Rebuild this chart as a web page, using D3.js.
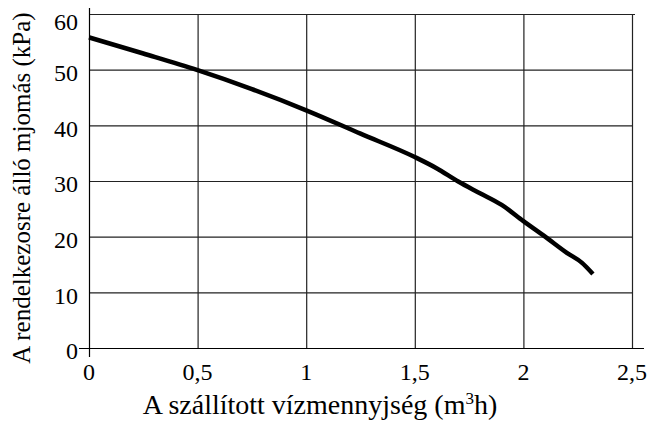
<!DOCTYPE html>
<html>
<head>
<meta charset="utf-8">
<script src="https://cdn.jsdelivr.net/npm/d3@7"></script>
<style>
  body { margin: 0; background: #fff; }
</style>
</head>
<body>
<div id="chart"></div>
<script>
// adatok
var flow = [0, 0.25, 0.5, 0.75, 1, 1.25, 1.5, 1.6, 1.7, 1.8, 1.9, 2, 2.1, 2.2, 2.27, 2.32];
var pressure = [55.8, 52.9, 49.9, 46.5, 42.7, 38.5, 34.3, 32.3, 29.9, 27.8, 25.7, 22.8, 20, 17.1, 15.3, 13.3];
var xTicks = [0, 0.5, 1, 1.5, 2, 2.5];
var yTicks = [0, 10, 20, 30, 40, 50, 60];
var xTitle = "A szállított vízmennyjség (m";
var yTitle = "A rendelkezosre álló mjomás (kPa)";

var W = 651, H = 425;
var FONT = "'Liberation Serif', 'Times New Roman', serif";
var x = d3.scaleLinear().domain([0, 2.5]).range([89, 632]);
var y = d3.scaleLinear().domain([0, 60]).range([348, 14]);
var fmt = d => String(d).replace(".", ",");

var svg = d3.select("#chart").append("svg")
    .attr("width", W)
    .attr("height", H)
    .style("font-family", FONT);

// rácsvonalak
svg.append("g").selectAll("line")
    .data(yTicks.filter(d => d > 0))
    .enter().append("line")
    .attr("x1", x(0))
    .attr("x2", d => d === 60 ? x(2.5) + 3 : x(2.5))
    .attr("y1", d => y(d) + 0.5)
    .attr("y2", d => y(d) + 0.5)
    .style("stroke", "#222")
    .style("stroke-width", 1.2);

svg.append("g").selectAll("line")
    .data(xTicks.filter(d => d > 0))
    .enter().append("line")
    .attr("x1", d => x(d) + 0.5)
    .attr("x2", d => x(d) + 0.5)
    .attr("y1", y(60))
    .attr("y2", y(0))
    .style("stroke", "#222")
    .style("stroke-width", 1.2);

// tengelyek
svg.append("line")
    .attr("x1", x(0) - 10).attr("x2", x(2.5) + 12)
    .attr("y1", y(0) + 0.5).attr("y2", y(0) + 0.5)
    .style("stroke", "#000").style("stroke-width", 1.2);
svg.append("line")
    .attr("x1", x(0) + 0.5).attr("x2", x(0) + 0.5)
    .attr("y1", y(60) - 6).attr("y2", y(0) + 9)
    .style("stroke", "#000").style("stroke-width", 1.2);

// tengelyfeliratok
svg.append("g").selectAll("text")
    .data(yTicks)
    .enter().append("text")
    .attr("x", 78)
    .attr("y", d => Math.max(y(d) + 3, 22))
    .attr("dy", "0.35em")
    .attr("text-anchor", "end")
    .style("font-family", FONT)
    .style("font-size", "24px")
    .text(d => d);

svg.append("g").selectAll("text")
    .data(xTicks)
    .enter().append("text")
    .attr("x", d => x(d))
    .attr("y", 380)
    .attr("text-anchor", "middle")
    .style("font-family", FONT)
    .style("font-size", "24px")
    .text(fmt);

// tengelycímek
var xt = svg.append("text")
    .attr("x", 320)
    .attr("y", 414)
    .attr("text-anchor", "middle")
    .style("font-family", FONT)
    .style("font-size", "28px");
xt.append("tspan").text(xTitle);
xt.append("tspan").attr("dy", -10).style("font-size", "17px").text("3");
xt.append("tspan").attr("dy", 10).text("h)");

svg.append("text")
    .attr("transform", "translate(30,188) rotate(-90)")
    .attr("text-anchor", "middle")
    .style("font-family", FONT)
    .style("font-size", "25px")
    .text(yTitle);

// görbe
var line = d3.line()
    .x(d => x(d[0]))
    .y(d => y(d[1]))
    .curve(d3.curveMonotoneX);

svg.append("path")
    .datum(flow.map((f, i) => [f, pressure[i]]))
    .attr("d", line)
    .style("fill", "none")
    .style("stroke", "#000")
    .style("stroke-width", 4.5);
</script>
</body>
</html>
